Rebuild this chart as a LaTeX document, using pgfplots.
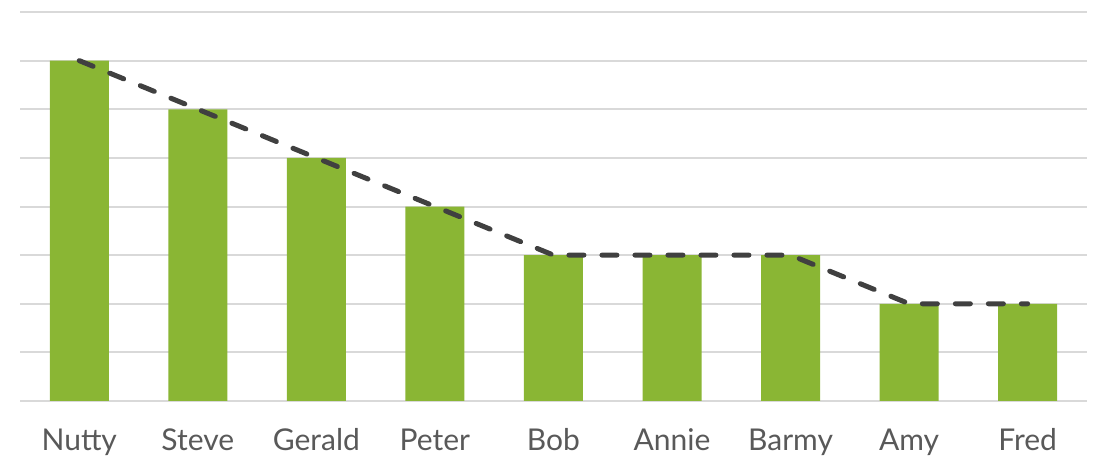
\documentclass[border=0pt]{standalone}
\usepackage{pgfplots}
\pgfplotsset{compat=1.18}
\usepackage{fontspec}
\setmainfont{Lato}
\definecolor{bargreen}{HTML}{8AB634}
\definecolor{gridgray}{HTML}{D9D9D9}
\definecolor{linegray}{HTML}{404040}
\definecolor{labelgray}{HTML}{595959}
\begin{document}
\begin{tikzpicture}
\useasboundingbox (-20pt,-56pt) rectangle (1082pt,401pt);
\begin{axis}[
  at={(0pt,0pt)}, anchor=south west,
  scale only axis,
  width=1067pt, height=389pt,
  xmin=-0.5, xmax=8.5,
  ymin=0, ymax=8,
  axis line style={draw=none},
  ytick={1,2,...,8},
  ymajorgrids,
  grid style={gridgray, line width=2pt},
  xtick=data,
  xticklabels={Nutty,Steve,Gerald,Peter,Bob,Annie,Barmy,Amy,Fred},
  xticklabel style={font=\fontsize{30}{33}\selectfont, text=labelgray, yshift=-24pt},
  major tick length=0pt,
  yticklabels={},
  clip=false,
]
\draw[gridgray, line width=2pt] (axis cs:-0.5,0) -- (axis cs:8.5,0);
\addplot[ybar, bar width=59pt, fill=bargreen, draw=none] coordinates {
  (0,7) (1,6) (2,5) (3,4) (4,3) (5,3) (6,3) (7,2) (8,2)
};
\addplot[linegray, line width=5pt, line cap=round, dash pattern=on 15pt off 18pt, mark=none] coordinates {
  (0,7) (1,6) (2,5) (3,4) (4,3) (5,3) (6,3) (7,2) (8,2)
};
\end{axis}
\end{tikzpicture}
\end{document}
